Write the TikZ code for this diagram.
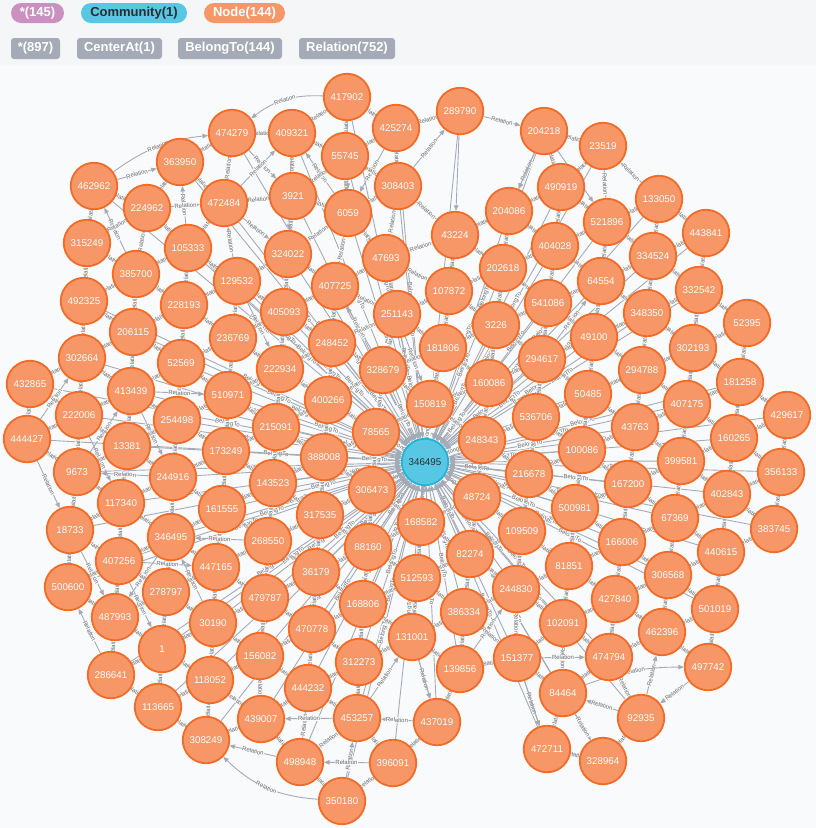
\documentclass[tikz,border=0pt]{standalone}
\usepackage{fontspec}
\setmainfont{Liberation Sans}
\usetikzlibrary{arrows.meta}
\pgfdeclarelayer{bgl}\pgfdeclarelayer{edg}
\pgfsetlayers{bgl,edg,main}
\definecolor{bgc}{RGB}{249,250,252}
\definecolor{hdr}{RGB}{245,246,248}
\definecolor{nfill}{RGB}{247,151,103}
\definecolor{nline}{RGB}{242,108,40}
\definecolor{cfill}{RGB}{87,199,227}
\definecolor{cline}{RGB}{35,179,215}
\definecolor{ctext}{RGB}{42,44,52}
\definecolor{edge}{RGB}{165,171,182}
\definecolor{pinkp}{RGB}{201,144,192}
\definecolor{pillg}{RGB}{165,171,182}
\definecolor{lbl}{RGB}{105,105,105}
\tikzset{
 nd/.style={circle,minimum size=46.5pt,inner sep=0pt,line width=1.8pt,draw=nline,fill=nfill,text=white,font=\fontsize{9.8}{10}\selectfont},
 cn/.style={nd,draw=cline,fill=cfill,text=ctext},
 rel/.style={draw=edge,line width=0.9pt,-{Triangle[length=5.5pt,width=4.5pt]}},
 rl/.style={sloped,midway,font=\fontsize{6}{7}\selectfont,text=lbl,fill=bgc,inner sep=0.5pt},
 pill/.style={rectangle,rounded corners=10pt,minimum height=20pt,inner sep=0pt,font=\bfseries\fontsize{13}{14}\selectfont,text=white},
 tagp/.style={rectangle,rounded corners=3pt,minimum height=21pt,inner sep=0pt,fill=pillg,font=\bfseries\fontsize{13}{14}\selectfont,text=white},
}
\def\NL{417902/347/97, 289790/460/111, 474279/232/133, 409321/292/133, 425274/396/128, 204218/544/131, 23519/603/146, 55745/345/156, 363950/180/162, 462962/94/186, 308403/398/186, 490919/561/187, 3921/293/196, 133050/659/199, 472484/224/203, 224962/147/208, 6059/348/213, 204086/509/211, 521896/607/222, 443841/706/233, 43224/455/235, 315249/87/243, 404028/555/246, 105333/188/248, 324022/288/254, 334524/653/256, 47693/386/258, 202618/503/268, 385700/136/274, 129532/237/281, 64554/601/281, 407725/335/286, 332542/699/290, 107872/449/291, 492325/84/301, 541086/548/303, 228193/184/305, 405093/284/312, 348350/647/313, 251143/397/314, 52395/747/323, 3226/496/325, 206115/133/332, 49100/594/337, 236769/233/338, 248452/332/343, 181806/443/348, 302193/693/348, 302664/82/358, 294617/542/359, 52569/181/363, 222934/280/369, 328679/383/370, 294788/642/370, 181258/740/382, 160086/489/383, 432865/30/384, 413439/131/391, 50485/588/394, 510971/228/395, 400266/328/400, 150819/430/404, 407175/687/404, 222006/79/415, 429617/787/415, 536706/536/417, 254498/177/420, 215091/276/427, 43763/635/427, 78565/376/432, 160265/734/438, 444427/27/439, 248343/482/440, 13381/127/446, 100086/582/450, 173249/226/451, 388008/324/457, 399581/681/461, 9673/77/472, 356133/781/472, 216678/529/474, 244916/173/477, 143523/273/483, 167200/628/484, 306473/372/490, 402843/727/494, 48724/477/497, 117340/121/503, 500981/575/508, 161555/222/509, 317535/320/515, 67369/675/518, 168582/421/522, 383745/774/529, 18733/70/530, 109509/522/531, 346495/171/537, 268550/268/541, 166006/622/542, 88160/368/547, 440615/721/552, 82274/470/554, 407256/119/561, 81851/569/566, 447165/216/567, 36179/316/572, 306568/668/575, 512593/417/578, 500600/68/587, 244830/516/589, 278797/166/592, 479787/265/598, 427840/615/599, 168806/363/604, 501019/715/609, 386334/464/612, 487993/115/617, 30190/213/623, 102091/563/623, 470778/312/629, 462396/662/632, 131001/412/637, 1/162/649, 156082/260/656, 474794/609/657, 151377/517/658, 312273/359/662, 497742/708/667, 139856/460/669, 286641/111/675, 118052/210/680, 444232/308/688, 84464/563/693, 113665/158/707, 453257/357/718, 92935/641/718, 439007/261/719, 437019/437/722, 308249/206/740, 472711/547/749, 328964/603/761, 498948/300/762, 396091/393/763, 350180/342/801}
\begin{document}
\begin{tikzpicture}[x=1pt,y=-1pt]
\useasboundingbox (0,0) rectangle (816,828);
\begin{pgfonlayer}{bgl}
\fill[bgc] (0,0) rectangle (816,828);
\fill[hdr] (0,0) rectangle (816,65);
\end{pgfonlayer}
% legend
\node[pill,fill=pinkp,minimum width=53pt] (p1) at (37.5,13) {*(145)};
\node[pill,fill=cfill,text=ctext,minimum width=106pt] (p2) at (134,13) {Community(1)};
\node[pill,fill=nfill,minimum width=81pt] (p3) at (244.5,13) {Node(144)};
\node[tagp,minimum width=49pt] (t1) at (35.5,48.5) {*(897)};
\node[tagp,minimum width=85pt] (t2) at (119.5,48.5) {CenterAt(1)};
\node[tagp,minimum width=104pt] (t3) at (230,48.5) {BelongTo(144)};
\node[tagp,minimum width=96pt] (t4) at (347,48.5) {Relation(752)};
% nodes
\node[cn] (c) at (425,462) {346495};
\foreach \a/\xa/\ya in \NL {\node[nd] (n\a) at (\xa,\ya) {\a};}
% edges
\begin{pgfonlayer}{edg}
\foreach \a/\xa/\ya in \NL {\draw[rel] (n\a) -- node[rl]{BelongTo} (c);}
\foreach \a/\xa/\ya [count=\i] in \NL {
 \foreach \b/\xb/\yb [count=\j] in \NL {
  \ifnum\j>\i\relax
   \ifnum\numexpr(\xb-\xa)*(\xb-\xa)+(\yb-\ya)*(\yb-\ya)\relax<9600\relax
     \ifodd\numexpr\i+\j\relax
       \draw[rel] (n\b) -- node[rl]{Relation} (n\a);
     \else
       \draw[rel] (n\a) -- node[rl]{Relation} (n\b);
     \fi
   \fi
  \fi
 }
}
\draw[rel] (n417902) to[bend right=20] node[rl]{Relation} (n474279);
\draw[rel] (n462962) to[bend left=15] node[rl]{Relation} (n474279);
\draw[rel] (n289790) -- (n43224);
\draw[rel] (n204218) -- (n204086);
\draw[rel] (n204218) -- node[rl]{Relation} (n521896);
\draw[rel] (n444427) -- node[rl]{Relation} (n18733);
\draw[rel] (n350180) to[bend left=20] node[rl]{Relation} (n308249);
\draw[rel] (n84464) to[bend left=10] node[rl]{Relation} (n497742);
\draw[rel] (n151377) -- (n472711);
\draw[rel] (n131001) -- (n437019);
\draw[rel] (n417902) -- (n6059);
\draw[rel] (n409321) -- (n324022);
\end{pgfonlayer}
\end{tikzpicture}
\end{document}
